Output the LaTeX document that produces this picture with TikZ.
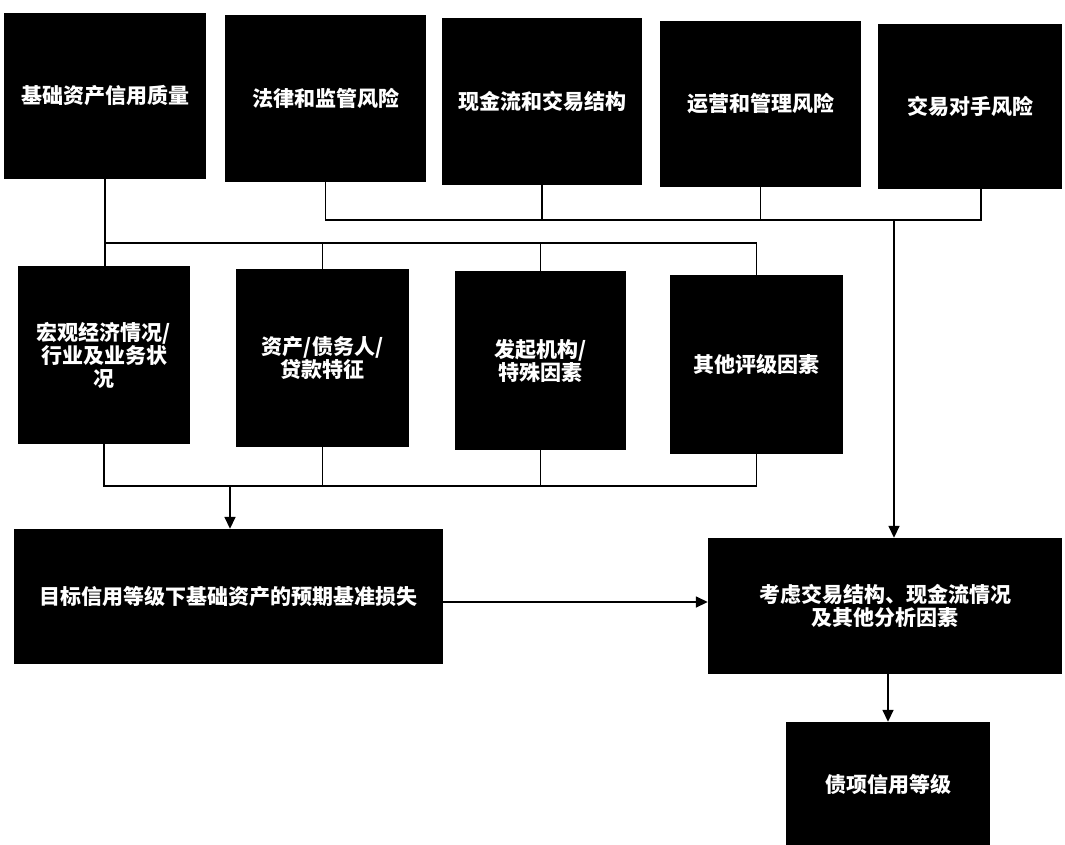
\documentclass[tikz,border=0pt]{standalone}
\usepackage{fontspec}
\newfontfamily\cjk{Noto Sans CJK SC}
\usetikzlibrary{arrows.meta}
\tikzset{
  box/.style={fill=black, draw=none, text=white, inner sep=0pt, align=center,
    font=\cjk\bfseries\fontsize{21}{23}\selectfont},
  link/.style={draw=black, line width=1.6pt},
  arr/.style={link, -{Triangle[length=12pt,width=11pt]}}
}
\begin{document}
\begin{tikzpicture}[x=1pt,y=-1pt]
\useasboundingbox (0,0) rectangle (1065,844);
% top row
\node[box, minimum width=202pt, minimum height=166pt] (b1) at (105,96) {基础资产信用质量};
\node[box, minimum width=201pt, minimum height=167pt] (b2) at (325.5,98.5) {法律和监管风险};
\node[box, minimum width=200pt, minimum height=167pt] (b3) at (542,101.5) {现金流和交易结构};
\node[box, minimum width=201pt, minimum height=166pt] (b4) at (760.5,104) {运营和管理风险};
\node[box, minimum width=184pt, minimum height=165pt] (b5) at (970,106.5) {交易对手风险};
% middle row
\node[box, minimum width=172pt, minimum height=178pt] (m1) at (104,355) {宏观经济情况/\\行业及业务状\\况};
\node[box, minimum width=173pt, minimum height=178pt] (m2) at (322.5,358) {资产/债务人/\\贷款特征};
\node[box, minimum width=171pt, minimum height=179pt] (m3) at (540.5,360.5) {发起机构/\\特殊因素};
\node[box, minimum width=173pt, minimum height=179pt] (m4) at (756.5,364.5) {其他评级因素};
% lower row
\node[box, minimum width=429pt, minimum height=135pt] (c1) at (228.5,596.5) {目标信用等级下基础资产的预期基准损失};
\node[box, minimum width=354pt, minimum height=136pt] (cf) at (885,606) {考虑交易结构、现金流情况\\及其他分析因素};
\node[box, minimum width=204pt, minimum height=124pt] (f) at (888,784) {债项信用等级};
% junction coordinates
\coordinate (h1) at (0,220);
\coordinate (h2) at (0,243);
\coordinate (h3) at (0,486);
\coordinate (t5) at (981,220);
\coordinate (v1) at (894,220);
\coordinate (v3) at (230,486);
\coordinate (ha) at (0,602);
% connectors: top row to CF
\draw[link] (b2.south) -- (b2.south |- h1) -- (t5) -- (t5 |- b5.south);
\draw[link] (b3.south) -- (b3.south |- h1);
\draw[link] (b4.south) -- (b4.south |- h1);
\draw[arr] (v1) -- (v1 |- cf.north);
% connectors: B1 to middle row
\draw[link] (b1.south) -- (b1.south |- m1.north);
\draw[link] (b1.south |- h2) -- (m4.north |- h2) -- (m4.north);
\draw[link] (m2.north |- h2) -- (m2.north);
\draw[link] (m3.north |- h2) -- (m3.north);
% connectors: middle row to C1
\draw[link] (m1.south) -- (m1.south |- h3) -- (m4.south |- h3) -- (m4.south);
\draw[link] (m2.south) -- (m2.south |- h3);
\draw[link] (m3.south) -- (m3.south |- h3);
\draw[arr] (v3) -- (v3 |- c1.north);
% C1 to CF, CF to F
\draw[arr] (c1.east |- ha) -- (cf.west |- ha);
\draw[arr] (f.north |- cf.south) -- (f.north);
\end{tikzpicture}
\end{document}
